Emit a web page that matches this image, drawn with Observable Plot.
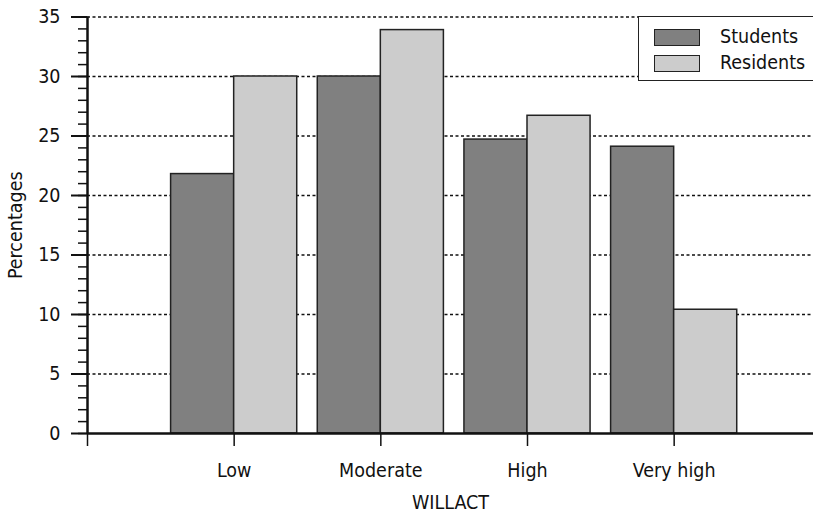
<!DOCTYPE html>
<html>
<head>
<meta charset="utf-8">
<script src="https://cdn.jsdelivr.net/npm/d3@7"></script>
<script src="https://cdn.jsdelivr.net/npm/@observablehq/plot@0.6"></script>
<style>
  html, body { margin: 0; padding: 0; background: #fff; }
  #wrap { position: relative; width: 813px; height: 513px; overflow: hidden; font-family: "Liberation Sans Narrow", "DejaVu Sans Condensed", sans-serif; }
  #legend { position: absolute; left: 638px; top: 16px; width: 190px; height: 65px; border: 1.5px solid #222; background: #fff; box-sizing: border-box; }
  .item { position: absolute; left: 15px; height: 18px; font-size: 19.5px; line-height: 18px; color: #111; }
  .sw { position: absolute; left: 0; top: 0; width: 46px; height: 17px; border: 1.5px solid #222; box-sizing: border-box; }
  .lab { position: absolute; left: 66px; top: -1px; white-space: nowrap; }
</style>
</head>
<body>
<div id="wrap"></div>
<script>
const categories = ["Low", "Moderate", "High", "Very high"];
const students = [21.8, 30.0, 24.7, 24.1];
const residents = [30.0, 33.9, 26.7, 10.4];
const seriesNames = ["Students", "Residents"];
const seriesColors = ["#808080", "#cccccc"];
const yMajorTicks = [0, 5, 10, 15, 20, 25, 30, 35];
const xLabel = "WILLACT";
const yLabel = "Percentages";

const half = 0.43;
const tickLabels = ["", ...categories];
const sData = categories.map((c, k) => ({i: k + 1, v: students[k]}));
const rData = categories.map((c, k) => ({i: k + 1, v: residents[k]}));
const font = '"Liberation Sans Narrow", "DejaVu Sans Condensed", sans-serif';

const chart = Plot.plot({
  width: 813,
  height: 513,
  marginLeft: 87,
  marginRight: 0,
  marginTop: 16.5,
  marginBottom: 80,
  style: {fontFamily: font, fontSize: "19.5px", background: "white", color: "#111"},
  x: {domain: [0, 4.95]},
  y: {domain: [0, 35]},
  marks: [
    Plot.gridY(yMajorTicks.filter(t => t > 0), {stroke: "#111", strokeOpacity: 1, strokeWidth: 1.3, strokeDasharray: "3,2.5"}),
    Plot.rectY(sData, {x1: d => d.i - half, x2: d => d.i, y: "v", fill: seriesColors[0], stroke: "#222", strokeWidth: 1.5}),
    Plot.rectY(rData, {x1: d => d.i, x2: d => d.i + half, y: "v", fill: seriesColors[1], stroke: "#222", strokeWidth: 1.5}),
    Plot.axisY({ticks: d3.range(0, 36), tickSize: 9, tickFormat: () => "", label: null, strokeWidth: 1.5}),
    Plot.axisY({ticks: yMajorTicks, tickSize: 16, tickPadding: 11, label: null, strokeWidth: 2}),
    Plot.axisX({ticks: [0, 1, 2, 3, 4], tickFormat: i => tickLabels[i], tickSize: 13, tickPadding: 17, label: null, strokeWidth: 1.5}),
    Plot.ruleY([0], {stroke: "#111", strokeWidth: 2.5}),
    Plot.ruleX([0], {stroke: "#111", strokeWidth: 2.5}),
    Plot.text([xLabel], {frameAnchor: "bottom", dy: 69, lineAnchor: "middle", fontSize: 19.5}),
    Plot.text([yLabel], {frameAnchor: "left", dx: -72, rotate: -90, textAnchor: "middle", lineAnchor: "middle", fontSize: 19.5})
  ]
});

const wrap = document.getElementById("wrap");
wrap.appendChild(chart);

const legend = document.createElement("div");
legend.id = "legend";
seriesNames.forEach((name, k) => {
  const item = document.createElement("div");
  item.className = "item";
  item.style.top = (12 + k * 26) + "px";
  const sw = document.createElement("div");
  sw.className = "sw";
  sw.style.background = seriesColors[k];
  const lab = document.createElement("span");
  lab.className = "lab";
  lab.textContent = name;
  item.appendChild(sw);
  item.appendChild(lab);
  legend.appendChild(item);
});
wrap.appendChild(legend);
</script>
</body>
</html>
